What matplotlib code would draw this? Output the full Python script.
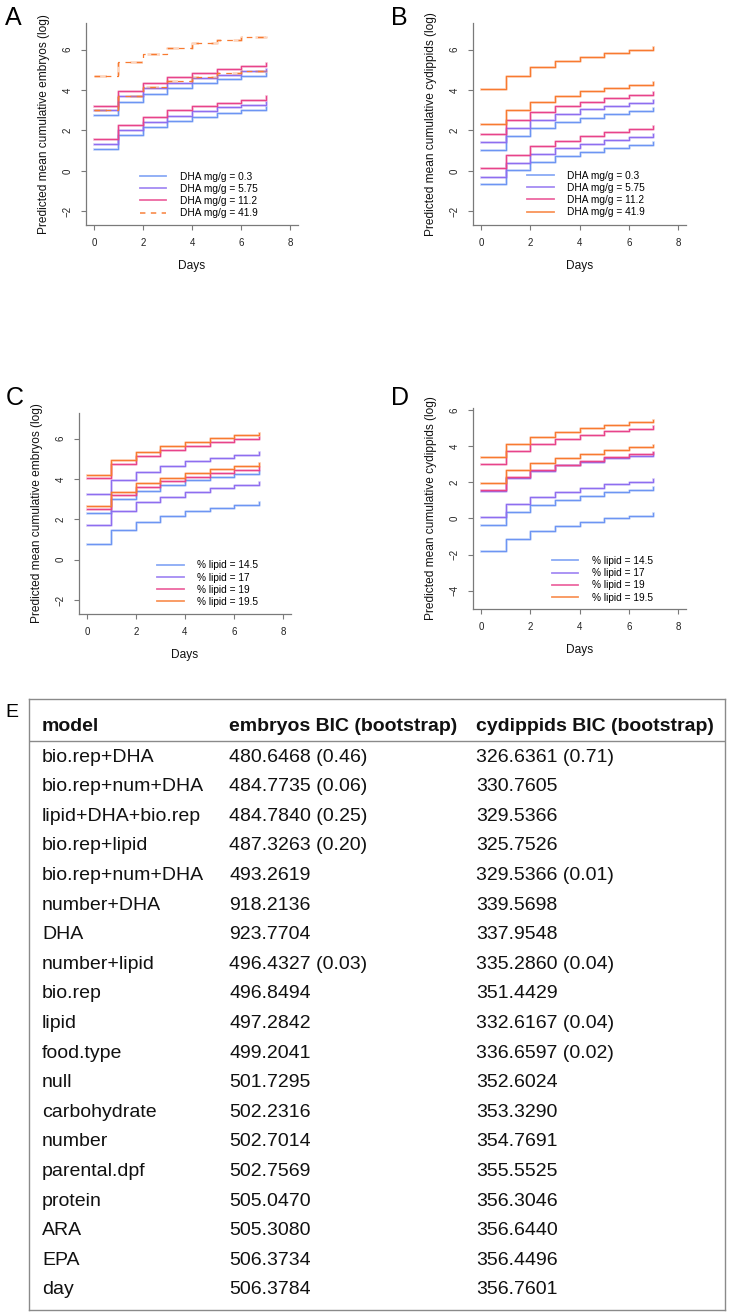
import matplotlib.pyplot as plt
from matplotlib.lines import Line2D

plt.rcParams['font.family'] = ['Liberation Sans', 'DejaVu Sans']

W, H = 731, 1315
days = [0, 1, 2, 3, 4, 5, 6, 7]
COLORS = ['#6d95f3', '#8e6ef0', '#e8438a', '#f87a30']

# --- A: embryos by DHA level (two bio reps each: upper, lower)
emb_dha_0_3 = [[2.74, 3.43, 3.81, 4.11, 4.34, 4.52, 4.67, 4.83],
               [1.07, 1.78, 2.18, 2.46, 2.69, 2.85, 3.00, 3.15]]
emb_dha_5_75 = [[3.02, 3.70, 4.08, 4.37, 4.57, 4.74, 4.93, 5.05],
                [1.32, 2.03, 2.43, 2.72, 2.94, 3.14, 3.28, 3.43]]
emb_dha_11_2 = [[3.22, 3.94, 4.34, 4.64, 4.85, 5.03, 5.17, 5.33],
                [1.58, 2.28, 2.69, 2.99, 3.20, 3.38, 3.53, 3.68]]
emb_dha_41_9 = [[4.67, 5.38, 5.79, 6.07, 6.30, 6.47, 6.62, 6.65],
                [3.02, 3.71, 4.13, 4.42, 4.64, 4.82, 4.95, 4.98]]

# --- B: cydippids by DHA level
cyd_dha_0_3 = [[1.02, 1.72, 2.13, 2.41, 2.64, 2.82, 2.97, 3.12],
               [-0.66, 0.03, 0.45, 0.73, 0.96, 1.14, 1.29, 1.44]]
cyd_dha_5_75 = [[1.42, 2.10, 2.52, 2.81, 3.04, 3.22, 3.37, 3.51],
                [-0.28, 0.41, 0.83, 1.11, 1.34, 1.52, 1.67, 1.82]]
cyd_dha_11_2 = [[1.82, 2.51, 2.92, 3.20, 3.43, 3.61, 3.76, 3.91],
                [0.13, 0.81, 1.24, 1.50, 1.73, 1.91, 2.06, 2.21]]
cyd_dha_41_9 = [[4.04, 4.70, 5.13, 5.43, 5.63, 5.83, 5.96, 6.11],
                [2.33, 3.00, 3.43, 3.70, 3.93, 4.11, 4.26, 4.41]]

# --- C: embryos by % lipid
emb_lip_14_5 = [[2.31, 3.01, 3.42, 3.70, 3.93, 4.12, 4.26, 4.41],
                [0.78, 1.47, 1.88, 2.17, 2.40, 2.58, 2.73, 2.88]]
emb_lip_17 = [[3.26, 3.95, 4.36, 4.64, 4.88, 5.06, 5.21, 5.36],
              [1.74, 2.43, 2.84, 3.12, 3.36, 3.54, 3.69, 3.83]]
emb_lip_19 = [[4.03, 4.74, 5.16, 5.44, 5.65, 5.83, 5.98, 6.10],
              [2.50, 3.19, 3.60, 3.88, 4.12, 4.30, 4.45, 4.60]]
emb_lip_19_5 = [[4.21, 4.93, 5.34, 5.62, 5.83, 6.02, 6.17, 6.30],
                [2.68, 3.37, 3.79, 4.07, 4.30, 4.48, 4.63, 4.78]]

# --- D: cydippids by % lipid
cyd_lip_14_5 = [[-0.37, 0.33, 0.74, 1.02, 1.26, 1.44, 1.59, 1.74],
                [-1.81, -1.11, -0.70, -0.43, -0.19, 0.00, 0.15, 0.30]]
cyd_lip_17 = [[1.52, 2.24, 2.63, 2.93, 3.15, 3.33, 3.48, 3.63],
              [0.06, 0.78, 1.19, 1.46, 1.70, 1.89, 2.04, 2.19]]
cyd_lip_19 = [[3.02, 3.72, 4.13, 4.41, 4.63, 4.81, 4.96, 5.09],
              [1.57, 2.30, 2.70, 2.98, 3.20, 3.39, 3.54, 3.67]]
cyd_lip_19_5 = [[3.39, 4.11, 4.50, 4.80, 5.00, 5.19, 5.33, 5.46],
                [1.94, 2.67, 3.06, 3.35, 3.56, 3.78, 3.93, 4.06]]

dha_labels = ['DHA mg/g = 0.3', 'DHA mg/g = 5.75', 'DHA mg/g = 11.2', 'DHA mg/g = 41.9']
lipid_labels = ['% lipid = 14.5', '% lipid = 17', '% lipid = 19', '% lipid = 19.5']

# --- E: model table
models = ['bio.rep+DHA', 'bio.rep+num+DHA', 'lipid+DHA+bio.rep', 'bio.rep+lipid',
          'bio.rep+num+DHA', 'number+DHA', 'DHA', 'number+lipid', 'bio.rep', 'lipid',
          'food.type', 'null', 'carbohydrate', 'number', 'parental.dpf', 'protein',
          'ARA', 'EPA', 'day']
embryos_bic = ['480.6468 (0.46)', '484.7735 (0.06)', '484.7840 (0.25)', '487.3263 (0.20)',
               '493.2619', '918.2136', '923.7704', '496.4327 (0.03)', '496.8494', '497.2842',
               '499.2041', '501.7295', '502.2316', '502.7014', '502.7569', '505.0470',
               '505.3080', '506.3734', '506.3784']
cydippids_bic = ['326.6361 (0.71)', '330.7605', '329.5366', '325.7526', '329.5366 (0.01)',
                 '339.5698', '337.9548', '335.2860 (0.04)', '351.4429', '332.6167 (0.04)',
                 '336.6597 (0.02)', '352.6024', '353.3290', '354.7691', '355.5525',
                 '356.3046', '356.6440', '356.4496', '356.7601']
table_header = ['model', 'embryos BIC (bootstrap)', 'cydippids BIC (bootstrap)']

AXC = '#7a7a7a'
fig = plt.figure(figsize=(W / 100, H / 100), dpi=100)


def px_rect(l, t, r, b):
    return [l / W, 1 - b / H, (r - l) / W, (b - t) / H]


def panel(px, ylim, yticks, series, labels, ylabel, leg_xy, dashed_last=False):
    ax = fig.add_axes(px_rect(*px))
    for i, (reps, col) in enumerate(zip(series, COLORS)):
        kw = dict(dashes=(4.5, 4.5)) if (dashed_last and i == 3) else {}
        for rep in reps:
            ax.step(days, rep, where='post', color=col, lw=2.0, alpha=0.3, **kw)
            ax.step(days, rep, where='post', color=col, lw=0.9, **kw)
    handles = []
    for i, col in enumerate(COLORS):
        kw = dict(dashes=(3, 3)) if (dashed_last and i == 3) else {}
        handles.append(Line2D([], [], color=col, lw=1.3, alpha=0.8, **kw))
    ax.legend(handles, labels, loc='upper left', bbox_to_anchor=leg_xy,
              bbox_transform=ax.transData, frameon=False, fontsize=7.3,
              handlelength=2.6, handletextpad=1.3, labelspacing=0.22,
              borderpad=0, borderaxespad=0)
    ax.set_xlim(-0.32, 8.32)
    ax.set_ylim(*ylim)
    ax.set_xticks([0, 2, 4, 6, 8])
    ax.set_yticks(yticks)
    for s in ['top', 'right']:
        ax.spines[s].set_visible(False)
    for s in ['left', 'bottom']:
        ax.spines[s].set_color(AXC)
        ax.spines[s].set_linewidth(0.9)
    ax.tick_params(direction='out', length=3.6, width=0.8, color=AXC,
                   labelsize=7, pad=6, labelcolor='#222222')
    ax.tick_params(axis='y', labelrotation=90)
    for lbl in ax.get_yticklabels():
        lbl.set_va('center')
    axw = px[2] - px[0]
    axh = px[3] - px[1]
    ax.set_ylabel(ylabel, fontsize=8.6, color='#111111')
    ax.yaxis.set_label_coords(-36 / axw, 0.5)
    ax.set_xlabel('Days', fontsize=8.6, color='#111111')
    ax.xaxis.set_label_coords(0.5, -35 / axh)
    return ax


panel((86, 23, 298, 225), (-2.67, 7.31), [-2, 0, 2, 4, 6],
      [emb_dha_0_3, emb_dha_5_75, emb_dha_11_2, emb_dha_41_9], dha_labels,
      'Predicted mean cumulative embryos (log)', (1.88, -0.03), dashed_last=True)
panel((473, 23, 686, 225), (-2.67, 7.31), [-2, 0, 2, 4, 6],
      [cyd_dha_0_3, cyd_dha_5_75, cyd_dha_11_2, cyd_dha_41_9], dha_labels,
      'Predicted mean cumulative cydippids (log)', (1.89, 0.02))
panel((79, 413, 291, 614), (-2.69, 7.27), [-2, 0, 2, 4, 6],
      [emb_lip_14_5, emb_lip_17, emb_lip_19, emb_lip_19_5], lipid_labels,
      'Predicted mean cumulative embryos (log)', (2.87, -0.03))
panel((473, 408, 686, 609), (-5.01, 6.11), [-4, -2, 0, 2, 4, 6],
      [cyd_lip_14_5, cyd_lip_17, cyd_lip_19, cyd_lip_19_5], lipid_labels,
      'Predicted mean cumulative cydippids (log)', (2.89, -2.07))

for letter, x, y, fs in [('A', 5, 25, 18), ('B', 391, 25, 18), ('C', 6, 405, 18),
                         ('D', 391, 405, 18), ('E', 5, 717, 14)]:
    fig.text(x / W, 1 - y / H, letter, fontsize=fs, ha='left', va='baseline')

# table panel
tx = fig.add_axes(px_rect(29, 699, 725, 1310))
tx.set_xlim(29, 725)
tx.set_ylim(1310, 699)
tx.set_xticks([])
tx.set_yticks([])
for s in tx.spines.values():
    s.set_color('#8a8a8a')
    s.set_linewidth(1.0)
tx.axhline(741, color='#8a8a8a', lw=1.0)
col_x = [42, 229, 476]
for cx, head in zip(col_x, table_header):
    tx.text(cx, 731.5, head, fontsize=14, fontweight='bold', va='baseline', color='#111111')
for i, row in enumerate(zip(models, embryos_bic, cydippids_bic)):
    yb = 761.7 + i * 29.6
    for cx, val in zip(col_x, row):
        tx.text(cx, yb, val, fontsize=14, va='baseline', color='#111111')

fig.savefig('out.png', dpi=100)
